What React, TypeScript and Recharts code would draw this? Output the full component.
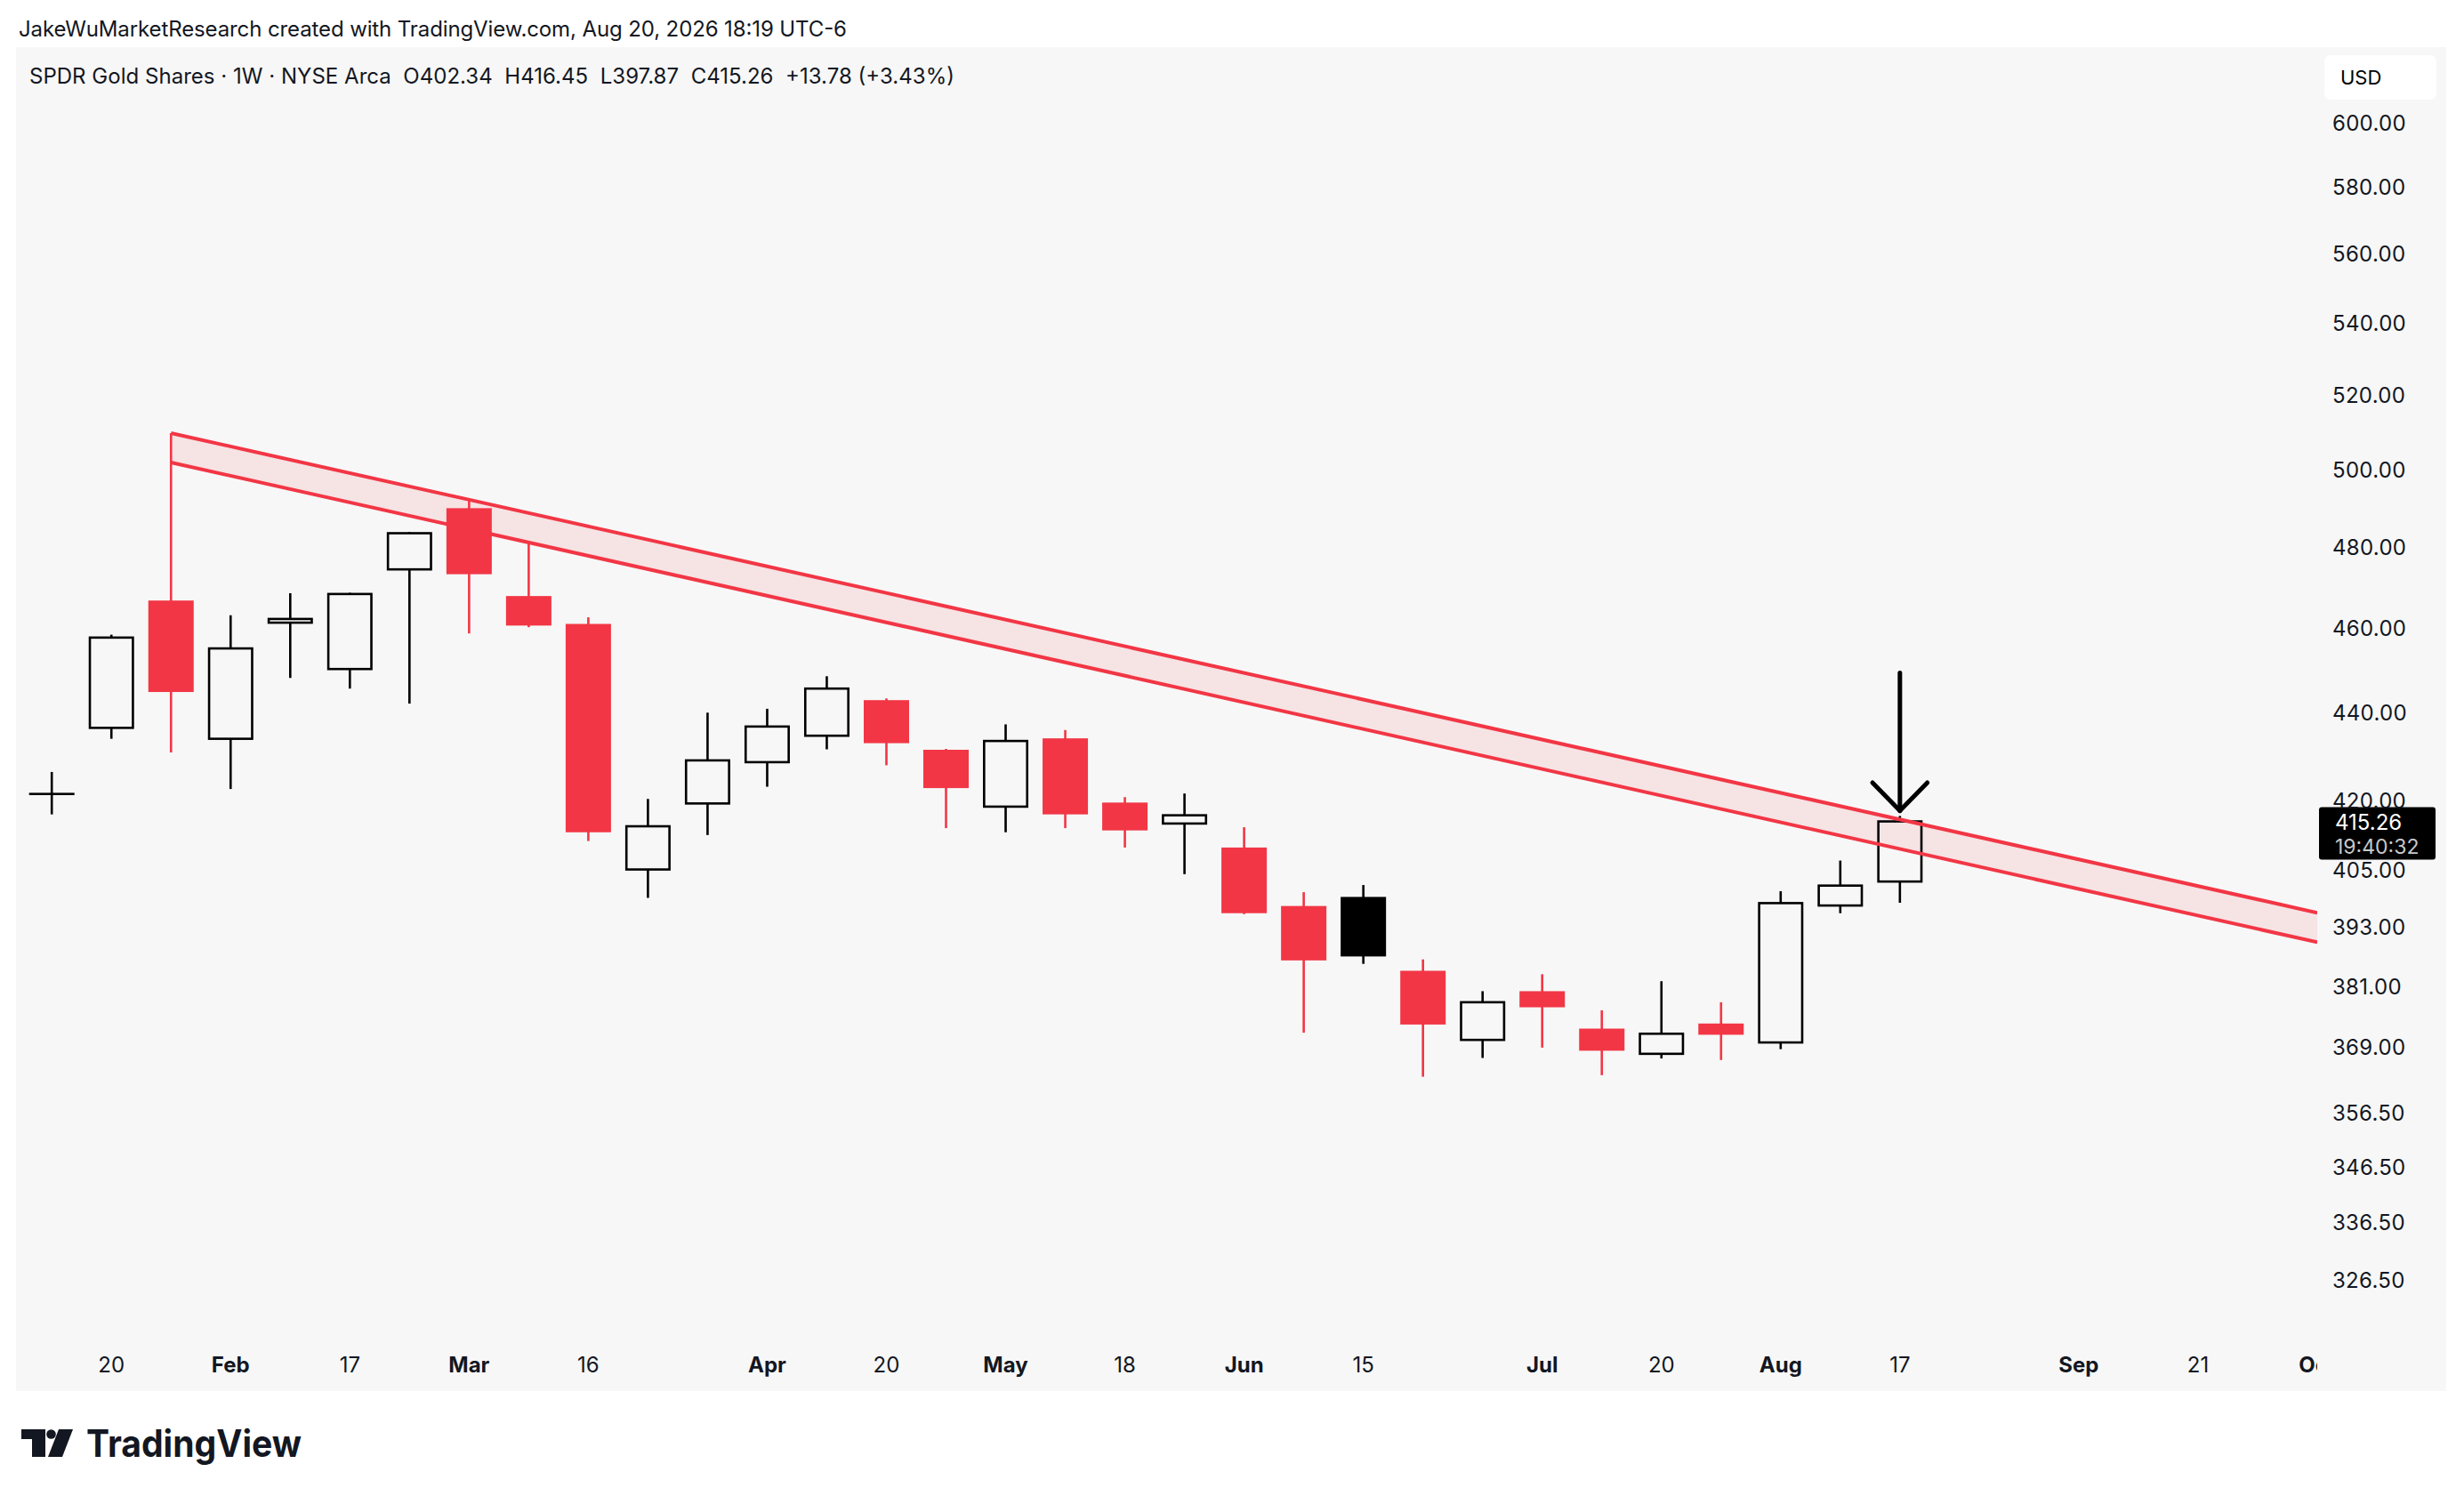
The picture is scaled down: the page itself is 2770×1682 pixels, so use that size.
import React from "react";
import {
  Area,
  Bar,
  ComposedChart,
  Line,
  ReferenceLine,
  XAxis,
  YAxis,
} from "recharts";

// weekly candles, index 0 = first visible week
const WEEK = [
  0, 1, 2, 3, 4, 5, 6, 7, 8, 9, 10, 11, 12, 13, 14, 15, 16, 17, 18, 19, 20, 21,
  22, 23, 24, 25, 26, 27, 28, 29, 30, 31,
];
const OPEN = [
  421.3, 436.2, 466.4, 433.7, 461.0, 449.9, 474.1, 489.6, 467.5, 460.7, 404.9,
  419.2, 428.4, 434.4, 442.6, 431.2, 418.5, 433.8, 419.4, 414.8, 409.6, 397.2,
  399.1, 383.9, 370.2, 379.8, 372.4, 367.5, 373.4, 369.7, 397.3, 402.34,
];
const HIGH = [
  426.2, 458.1, 509.3, 462.8, 468.2, 468.3, 483.5, 491.8, 480.5, 462.3, 420.2,
  439.7, 440.6, 448.2, 443.0, 431.4, 437.0, 435.7, 420.6, 421.4, 414.0, 400.1,
  401.6, 386.2, 379.8, 383.2, 376.0, 381.8, 377.6, 400.3, 406.8, 416.45,
];
const LOW = [
  416.8, 433.7, 430.6, 422.4, 447.8, 445.3, 441.8, 458.4, 459.9, 411.0, 398.9,
  412.3, 422.9, 431.3, 427.7, 413.8, 412.9, 413.8, 409.6, 403.9, 395.5, 371.6,
  385.3, 363.1, 366.7, 368.7, 363.4, 366.6, 366.3, 368.4, 395.7, 397.87,
];
const CLOSE = [
  421.3, 457.4, 444.5, 454.8, 461.9, 468.0, 483.2, 472.9, 460.3, 412.9, 414.2,
  428.8, 436.5, 445.3, 432.7, 422.6, 433.2, 416.8, 413.3, 416.6, 395.7, 386.0,
  386.8, 373.2, 377.6, 376.6, 368.1, 371.4, 371.2, 397.8, 401.48, 415.26,
];

const X_TICKS = [1, 3, 5, 7, 9, 12, 14, 16, 18, 20, 22, 25, 27, 29, 31, 34, 36, 38];
const X_LABELS = [
  "20", "Feb", "17", "Mar", "16", "Apr", "20", "May", "18", "Jun", "15", "Jul",
  "20", "Aug", "17", "Sep", "21", "Oct",
];
const MONTHS = ["Feb", "Mar", "Apr", "May", "Jun", "Jul", "Aug", "Sep", "Oct"];
const Y_TICKS = [
  600, 580, 560, 540, 520, 500, 480, 460, 440, 420, 405, 393, 381, 369, 356.5,
  346.5, 336.5, 326.5,
];

// falling channel drawn from the January spike
const CHANNEL_X = [2, 38];
const CHANNEL_UPPER = [509.3, 395.8];
const CHANNEL_LOWER = [501.5, 389.7];

// arrow pointing at the last candle
const ARROW_X = 31;
const ARROW_TOP = 449.0;
const ARROW_TIP = 417.6;
const ARROW_WING = 423.8;
const ARROW_HALF = 0.46;

const LAST_CLOSE = 415.26;
const COUNTDOWN = "19:40:32";

const RED = "#F23645";
const INK = "#131722";
const FONT = "Inter, 'Noto Sans', sans-serif";

const candles = WEEK.map((week, i) => ({
  week,
  open: OPEN[i],
  high: HIGH[i],
  low: LOW[i],
  close: CLOSE[i],
  prevClose: i > 0 ? CLOSE[i - 1] : CLOSE[i],
  range: [LOW[i], HIGH[i]],
}));

const channel = CHANNEL_X.map((week, i) => ({
  week,
  upper: CHANNEL_UPPER[i],
  lower: CHANNEL_LOWER[i],
  band: [CHANNEL_LOWER[i], CHANNEL_UPPER[i]],
}));

const BODY_SW = 2.6;
const WICK_SW = 2.6;

const Candle = (props: any) => {
  const { x, y, width, height, payload } = props;
  if (!payload) return null;
  const top = Math.min(y, y + height);
  const h = Math.abs(height);
  const lnH = Math.log(payload.high);
  const lnL = Math.log(payload.low);
  // log axis: pixel position is linear in ln(price)
  const toY = (v: number) => top + ((lnH - Math.log(v)) / (lnH - lnL)) * h;
  const cx = x + width / 2;
  const yO = toY(payload.open);
  const yC = toY(payload.close);
  const bTop = Math.min(yO, yC);
  const bBot = Math.max(yO, yC);
  const hollow = payload.close >= payload.open;
  const color = payload.close < payload.prevClose ? RED : "#000";
  if (hollow) {
    return (
      <g>
        <line x1={cx} x2={cx} y1={top} y2={bTop} stroke={color} strokeWidth={WICK_SW} />
        <line x1={cx} x2={cx} y1={bBot} y2={top + h} stroke={color} strokeWidth={WICK_SW} />
        <rect
          x={x + BODY_SW / 2}
          y={bTop}
          width={width - BODY_SW}
          height={Math.max(bBot - bTop, 0.01)}
          fill="none"
          stroke={color}
          strokeWidth={BODY_SW}
        />
      </g>
    );
  }
  return (
    <g>
      <line x1={cx} x2={cx} y1={top} y2={top + h} stroke={color} strokeWidth={WICK_SW} />
      <rect x={x} y={bTop} width={width} height={Math.max(bBot - bTop, 1)} fill={color} />
    </g>
  );
};

const XTick = (props: any) => {
  const { x, y, payload } = props;
  const label = X_LABELS[X_TICKS.indexOf(payload.value)];
  return (
    <text
      x={x}
      y={y}
      dy="0.71em"
      textAnchor="middle"
      fontFamily={FONT}
      fontSize={24}
      fontWeight={MONTHS.includes(label) ? 700 : 400}
      fill={INK}
      clipPath="url(#xLabelClip)"
    >
      {label}
    </text>
  );
};

const YTick = (props: any) => {
  const { x, y, payload } = props;
  return (
    <text
      x={x}
      y={y}
      dy="0.42em"
      textAnchor="start"
      fontFamily={FONT}
      fontSize={24}
      letterSpacing={0.3}
      fill={INK}
    >
      {Number(payload.value).toFixed(2)}
    </text>
  );
};

const PriceTag = (props: any) => {
  const { x, y, width } = props.viewBox;
  const left = x + width + 2;
  return (
    <g>
      <rect x={left} y={y - 16} width={131} height={59} rx={3} fill="#000" />
      <text x={left + 18} y={y} dy="0.4em" fontFamily={FONT} fontSize={24} fill="#fff">
        {LAST_CLOSE.toFixed(2)}
      </text>
      <text x={left + 18} y={y + 27} dy="0.4em" fontFamily={FONT} fontSize={23} fill="#c8c8c8">
        {COUNTDOWN}
      </text>
    </g>
  );
};

const CHART_W = 2732;
const CHART_H = 1511;
const AXIS_W = 145;

export default function App() {
  return (
    <div
      style={{
        position: "absolute",
        left: 0,
        top: 0,
        width: 2770,
        height: 1682,
        background: "#fff",
        overflow: "hidden",
      }}
    >
      <svg width={2770} height={1682} style={{ position: "absolute", left: 0, top: 0 }}>
        <rect x={18} y={53} width={CHART_W} height={CHART_H} fill="#F7F7F7" />
        <text x={21} y={41} fontFamily={FONT} fontSize={24} fill={INK} textLength={931}>
          JakeWuMarketResearch created with TradingView.com, Aug 20, 2026 18:19 UTC-6
        </text>
        <text
          x={33}
          y={94}
          fontFamily={FONT}
          fontSize={24}
          fill={INK}
          textLength={1040}
          style={{ whiteSpace: "pre" }}
        >
          {"SPDR Gold Shares · 1W · NYSE Arca  O402.34  H416.45  L397.87  C415.26  +13.78 (+3.43%)"}
        </text>
        <rect x={2613} y={62} width={126} height={50} rx={7} fill="#fff" />
        <text x={2631} y={95} fontFamily={FONT} fontSize={22} fill="#000">
          USD
        </text>
        {/* TradingView logo */}
        <rect x={24} y={1607} width={27} height={11} fill={INK} />
        <rect x={36} y={1607} width={15} height={31} fill={INK} />
        <circle cx={57.5} cy={1612.5} r={5.3} fill={INK} />
        <polygon points="66,1607 82,1607 70,1638 54,1638" fill={INK} />
        <text
          x={97}
          y={1638}
          fontFamily={FONT}
          fontSize={42}
          fontWeight={700}
          fill={INK}
          textLength={242}
          lengthAdjust="spacingAndGlyphs"
        >
          TradingView
        </text>
      </svg>
      <div style={{ position: "absolute", left: 18, top: 53 }}>
        <ComposedChart
          width={CHART_W}
          height={CHART_H}
          data={candles}
          margin={{ top: 0, right: 0, bottom: 0, left: 0 }}
        >
          <defs>
            <clipPath id="xLabelClip">
              <rect x={0} y={0} width={CHART_W - AXIS_W} height={CHART_H} />
            </clipPath>
          </defs>
          <XAxis
            dataKey="week"
            type="number"
            domain={[-0.6, 38]}
            allowDataOverflow
            ticks={X_TICKS}
            interval={0}
            height={59}
            tickSize={0}
            tickMargin={21}
            axisLine={false}
            tickLine={false}
            tick={XTick}
          />
          <YAxis
            orientation="right"
            scale="log"
            domain={[316.4, 623.9]}
            allowDataOverflow
            ticks={Y_TICKS}
            interval={0}
            width={AXIS_W}
            tickSize={0}
            tickMargin={17}
            axisLine={false}
            tickLine={false}
            tick={YTick}
          />
          <Area
            data={channel}
            dataKey="band"
            type="linear"
            stroke="none"
            fill={RED}
            fillOpacity={0.1}
            isAnimationActive={false}
          />
          <Line
            data={channel}
            dataKey="upper"
            type="linear"
            stroke={RED}
            strokeWidth={4}
            dot={false}
            activeDot={false}
            isAnimationActive={false}
          />
          <Line
            data={channel}
            dataKey="lower"
            type="linear"
            stroke={RED}
            strokeWidth={4}
            dot={false}
            activeDot={false}
            isAnimationActive={false}
          />
          <Bar dataKey="range" barSize={51} shape={Candle} isAnimationActive={false} />
          <ReferenceLine
            segment={[
              { x: ARROW_X, y: ARROW_TOP },
              { x: ARROW_X, y: ARROW_TIP },
            ]}
            stroke="#000"
            strokeWidth={5}
            strokeLinecap="round"
          />
          <ReferenceLine
            segment={[
              { x: ARROW_X - ARROW_HALF, y: ARROW_WING },
              { x: ARROW_X, y: ARROW_TIP },
            ]}
            stroke="#000"
            strokeWidth={5}
            strokeLinecap="round"
          />
          <ReferenceLine
            segment={[
              { x: ARROW_X + ARROW_HALF, y: ARROW_WING },
              { x: ARROW_X, y: ARROW_TIP },
            ]}
            stroke="#000"
            strokeWidth={5}
            strokeLinecap="round"
          />
          <ReferenceLine y={LAST_CLOSE} stroke="none" label={PriceTag} />
        </ComposedChart>
      </div>
    </div>
  );
}
